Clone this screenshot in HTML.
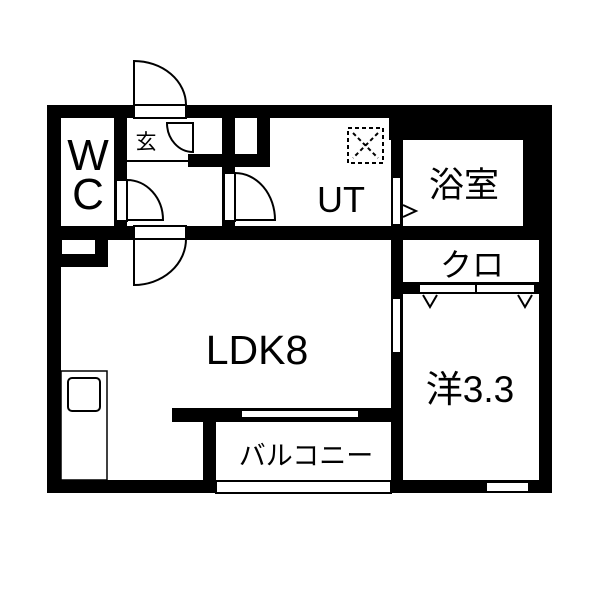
<!DOCTYPE html><html><head><meta charset="utf-8"><style>body{margin:0;background:#fff}svg{display:block}text{font-family:"Liberation Sans","Noto Sans CJK JP",sans-serif;fill:#000}</style></head><body>
<svg width="600" height="600" viewBox="0 0 600 600">
<g fill="#000">
<rect x="47" y="105" width="14" height="388"/>
<rect x="47" y="105" width="505" height="13"/>
<rect x="389" y="105" width="163" height="35"/>
<rect x="523" y="105" width="29" height="135"/>
<rect x="539" y="105" width="13" height="388"/>
<rect x="47" y="480" width="505" height="13"/>
<rect x="47" y="226" width="505" height="14"/>
<rect x="391" y="118" width="12" height="362"/>
<rect x="391" y="282" width="148" height="12"/>
<rect x="172" y="408" width="219" height="14"/>
<rect x="203" y="408" width="13" height="85"/>
<rect x="114" y="118" width="13" height="108"/>
<rect x="188" y="154" width="82" height="13"/>
<rect x="222" y="118" width="13" height="108"/>
<rect x="257" y="118" width="13" height="49"/>
<rect x="61" y="239" width="47" height="28"/>
</g>
<g fill="#fff" stroke="#000" stroke-width="2">
<rect x="62" y="240" width="33" height="14" stroke="none"/>
<rect x="134" y="105" width="52" height="13"/>
<rect x="134" y="226" width="52" height="13"/>
<rect x="116" y="180" width="11" height="41"/>
<rect x="224" y="173" width="11" height="48"/>
<rect x="392" y="177" width="9" height="48"/>
<rect x="392" y="298" width="9" height="55"/>
<rect x="419" y="284" width="57" height="9"/>
<rect x="476" y="284" width="59" height="9"/>
<rect x="241" y="410" width="118" height="8"/>
<rect x="216" y="481" width="175" height="12"/>
<rect x="486" y="482" width="43" height="10"/>
</g>
<g fill="none" stroke="#000" stroke-width="2">
<path d="M134,105 L134,61 A52,44 0 0 1 186,105"/>
<path d="M134,239 L134,285 A52,46 0 0 0 186,239"/>
<path d="M127,220 L127,180 A36,40 0 0 1 163,220 Z"/>
<path d="M235,220 L235,173 A40,47 0 0 1 275,220 Z"/>
<path d="M193,123 L167,123 A26,29 0 0 0 193,152 Z"/>
<line x1="127" y1="161" x2="188" y2="161"/>
<path d="M403,205 L416,211 L403,217"/>
<path d="M423,295 L430,307 L437,295"/>
<path d="M518,295 L525,307 L532,295"/>
<rect x="61" y="371" width="46" height="109" stroke-width="1.5"/>
<rect x="68" y="378" width="32" height="33" rx="4"/>
<rect x="348" y="128" width="35" height="35" stroke-dasharray="4,3"/>
<path d="M353,133 L378,158 M378,133 L353,158" stroke-dasharray="4,3"/>
</g>
<text x="88" y="170" font-size="44" text-anchor="middle">W</text>
<text x="88" y="209" font-size="44" text-anchor="middle">C</text>
<text x="146" y="149" font-size="21" text-anchor="middle">玄</text>
<text x="341" y="212" font-size="36" text-anchor="middle">UT</text>
<text x="464" y="197" font-size="35" text-anchor="middle">浴室</text>
<text x="472" y="276" font-size="32" text-anchor="middle">クロ</text>
<text x="257" y="364" font-size="41" text-anchor="middle">LDK8</text>
<text x="470" y="402" font-size="37" text-anchor="middle">洋3.3</text>
<text x="306" y="465" font-size="27" text-anchor="middle">バルコニー</text>
</svg></body></html>
